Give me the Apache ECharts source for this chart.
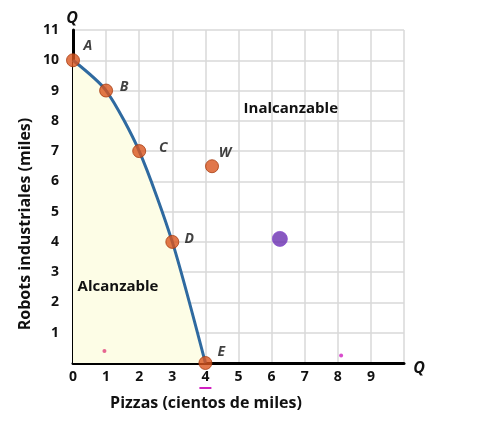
<!DOCTYPE html>
<html>
<head>
<meta charset="utf-8">
<script src="https://cdn.jsdelivr.net/npm/echarts@6/dist/echarts.min.js"></script>
<style>
  html, body { margin: 0; padding: 0; background: #fff; }
  #chart { width: 480px; height: 430px; }
</style>
</head>
<body>
<div id="chart"></div>
<script>
// frontier points (pizzas, robots)
const pointNames = ["A", "B", "C", "D", "E"];
const pizzas = [0, 1, 2, 3, 4];
const robots = [10, 9, 7, 4, 0];
// point outside the frontier
const extraPoint = { name: "W", x: 4.2, y: 6.5 };
// hand-drawn marks on the picture
const purpleBlob = [6.25, 4.1];
const smallMarks = [[0.95, 0.4, "#e0407a"], [8.1, 0.25, "#d020c0"]];

const xTicks = [0, 1, 2, 3, 4, 5, 6, 7, 8, 9];
const yTicks = [1, 2, 3, 4, 5, 6, 7, 8, 9, 10, 11];

const labelOffsets = { A: [15, -14], B: [18, -4], C: [24, -3], D: [17, -3], E: [16, -11], W: [13, -13] };

const font = "'Open Sans', sans-serif";
const chart = echarts.init(document.getElementById("chart"));

const curveData = pizzas.map((x, i) => [x, robots[i]]);
const pointData = pointNames.map((n, i) => ({ name: n, value: [pizzas[i], robots[i]] }))
  .concat([{ name: extraPoint.name, value: [extraPoint.x, extraPoint.y] }]);

chart.setOption({
  animation: false,
  grid: { left: 73, right: 76, top: 30, bottom: 67 },
  xAxis: {
    type: "value", min: 0, max: 10, interval: 1,
    axisLine: { show: true, onZero: false, lineStyle: { color: "#000", width: 3 } },
    axisTick: { show: false },
    splitLine: { show: true, lineStyle: { color: "#d9d9d9", width: 1.5 } },
    axisLabel: {
      margin: 7, color: "#111", fontFamily: font, fontWeight: "bold", fontSize: 14,
      formatter: v => xTicks.includes(v) ? String(v) : ""
    }
  },
  yAxis: {
    type: "value", min: 0, max: 11, interval: 1,
    axisLine: { show: true, onZero: false, lineStyle: { color: "#000", width: 3 } },
    axisTick: { show: false },
    splitLine: { show: true, lineStyle: { color: "#d9d9d9", width: 1.5 } },
    axisLabel: {
      margin: 14, color: "#111", fontFamily: font, fontWeight: "bold", fontSize: 14,
      formatter: v => yTicks.includes(v) ? String(v) : ""
    }
  },
  series: [
    {
      type: "line", data: curveData, smooth: 0.25,
      symbol: "none", z: 3,
      lineStyle: { color: "#2f6aa0", width: 3 },
      areaStyle: { color: "#fdfde6", opacity: 1, origin: "start" }
    },
    {
      type: "scatter", data: pointData, symbolSize: 13, z: 5,
      itemStyle: { color: "#d9551e", borderColor: "#a83c10", borderWidth: 1 },
      label: {
        show: true, position: "inside", formatter: p => p.name,
        fontFamily: font, fontWeight: "bold", fontStyle: "italic", fontSize: 14, color: "#111"
      },
      labelLayout: p => {
        const o = labelOffsets[pointData[p.dataIndex].name];
        return { dx: o[0], dy: o[1] };
      }
    },
    {
      type: "scatter", data: [purpleBlob], symbolSize: 15, z: 4,
      itemStyle: { color: "#6a2fb0", borderColor: "#8a50d0", borderWidth: 1 }
    },
    {
      type: "scatter", data: smallMarks.map(m => ({ value: [m[0], m[1]], itemStyle: { color: m[2] } })),
      symbolSize: 4, z: 4
    }
  ]
});

// text and annotation placed in grid coordinates
const toPx = (x, y) => chart.convertToPixel({ gridIndex: 0 }, [x, y]);
const origin = toPx(0, 0);
const xEnd = toPx(10, 0);
const yTop = toPx(0, 11);
const tick4 = toPx(4, 0);
const inal = toPx(6.58, 8.4);
const alc = toPx(1.36, 2.53);

chart.setOption({
  graphic: [
    { type: "text", z: 100, x: yTop[0] - 1, y: yTop[1] - 12, style: { text: "Q", font: "italic bold 16px " + font, fill: "#111", align: "center", verticalAlign: "middle" } },
    { type: "text", z: 100, x: xEnd[0] + 15, y: xEnd[1] + 5, style: { text: "Q", font: "italic bold 16px " + font, fill: "#111", align: "center", verticalAlign: "middle" } },
    { type: "text", z: 100, x: inal[0], y: inal[1], style: { text: "Inalcanzable", font: "bold 15px " + font, fill: "#111", align: "center", verticalAlign: "middle" } },
    { type: "text", z: 100, x: alc[0], y: alc[1], style: { text: "Alcanzable", font: "bold 15px " + font, fill: "#111", align: "center", verticalAlign: "middle" } },
    { type: "text", z: 100, x: 206, y: 403, style: { text: "Pizzas (cientos de miles)", font: "bold 16px " + font, fill: "#111", align: "center", verticalAlign: "middle" } },
    { type: "text", z: 100, x: 25, y: 224, rotation: Math.PI / 2, style: { text: "Robots industriales (miles)", font: "bold 16px " + font, fill: "#111", align: "center", verticalAlign: "middle" } },
    { type: "rect", z: 100, shape: { x: tick4[0] - 6, y: origin[1] + 24, width: 12, height: 2 }, style: { fill: "#d020c0" } }
  ]
});
</script>
</body>
</html>
